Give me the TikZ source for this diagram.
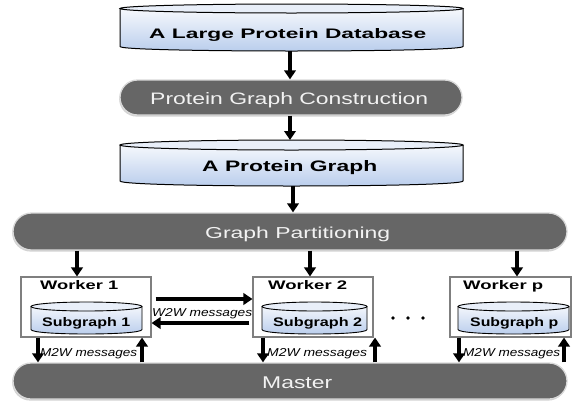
\documentclass[tikz,border=0pt]{standalone}
\usepackage{fontspec}
\setmainfont{Liberation Sans}
\usepackage{graphicx}
\usetikzlibrary{arrows.meta,shapes.misc,shadows}
\definecolor{pillgray}{HTML}{666666}
\definecolor{pilltext}{HTML}{F2F2F2}
\definecolor{pilledge}{HTML}{D9D9D9}
\definecolor{dbblue}{HTML}{B8CCEC}
\definecolor{dbtop}{HTML}{E9EFF9}
\definecolor{boxedge}{HTML}{7F7F7F}
\newcommand{\fittext}[3]{\resizebox{#1pt}{#2pt}{#3}}
% #1 x1, #2 x2, #3 ytop, #4 ybot, #5 ry, #6 name, #7 line width
\newcommand{\dbcyl}[7]{%
  \path[top color=white, bottom color=dbblue]
    (#1,#3+#5) -- (#1,#4-#5)
    .. controls (#1,#4-#5+1.3333*#5) and (#2,#4-#5+1.3333*#5) .. (#2,#4-#5)
    -- (#2,#3+#5)
    .. controls (#2,#3+#5-1.3333*#5) and (#1,#3+#5-1.3333*#5) .. (#1,#3+#5) -- cycle;
  \draw[line width=#7, fill=dbtop] ({(#1+#2)/2},#3+#5) ellipse [x radius={(#2-#1)/2}, y radius=#5];
  \draw[line width=#7, line join=round]
    (#1,#3+#5) -- (#1,#4-#5)
    .. controls (#1,#4-#5+1.3333*#5) and (#2,#4-#5+1.3333*#5) .. (#2,#4-#5)
    -- (#2,#3+#5);
  \node[inner sep=0pt, outer sep=0pt, minimum width={(#2-#1)*1pt}, minimum height={(#4-#3)*1pt}]
    (#6) at ({(#1+#2)/2},{(#3+#4)/2}) {};
}
\begin{document}
\begin{tikzpicture}[x=1pt,y=-1pt,
  pill/.style={rounded rectangle, fill=pillgray, draw=pilledge, line width=1.3pt, inner sep=0pt,
    drop shadow={shadow xshift=-0.8pt, shadow yshift=-1.6pt, opacity=0.35}},
  pilltxt/.style={anchor=base west, inner sep=0pt, text=pilltext},
  dbtxt/.style={anchor=base west, inner sep=0pt, text=black},
  msgtxt/.style={anchor=base west, inner sep=0pt, text=black},
  worker/.style={draw=boxedge, line width=1.1pt, fill=white, inner sep=0pt},
  flowarrow/.style={line width=3.2pt, -{Triangle[width=11.5pt,length=9pt]}},
  dotmark/.style={circle, fill=black, inner sep=0pt, minimum size=3.8pt}
]
\useasboundingbox (0,0) rectangle (572,402);

% top databases and construction step
\dbcyl{120}{463}{4}{51}{4.5}{db1}{1pt}
\node[pill, minimum width=342pt, minimum height=35pt] (pgc) at (291,97.5) {};
\dbcyl{120}{463}{140}{186}{5}{db2}{1pt}
\node[pill, minimum width=554pt, minimum height=37pt] (part) at (290,231.5) {};

% workers
\node[worker, minimum width=130pt, minimum height=60pt] (w1) at (86,307) {};
\node[worker, minimum width=120pt, minimum height=60pt] (w2) at (313,307) {};
\node[worker, minimum width=121pt, minimum height=60pt] (wp) at (510.5,307) {};
\dbcyl{31}{142}{302}{334}{4.5}{s1}{0.9pt}
\dbcyl{262}{367}{302}{334}{4.5}{s2}{0.9pt}
\dbcyl{458}{569}{302}{334}{4.5}{sp}{0.9pt}

% master
\node[pill, minimum width=554pt, minimum height=36pt] (master) at (290,381) {};

% texts
\node[dbtxt] (t1) at (149,38.3) {\fittext{277}{10}{\bfseries A Large Protein Database}};
\node[pilltxt] (t2) at (150,104.3) {\fittext{278}{12}{Protein Graph Construction}};
\node[dbtxt] (t3) at (202,171) {\fittext{175}{11}{\bfseries A Protein Graph}};
\node[pilltxt] (t4) at (205,238.3) {\fittext{185}{11.5}{Graph Partitioning}};
\node[pilltxt] (t5) at (262,388.3) {\fittext{70}{11.7}{Master}};

\node[dbtxt] (wt1) at (40,289) {\fittext{78}{9}{\bfseries Worker 1}};
\node[dbtxt] (wt2) at (268,289) {\fittext{79}{9}{\bfseries Worker 2}};
\node[dbtxt] (wtp) at (463,289) {\fittext{80}{9}{\bfseries Worker p}};

\node[dbtxt] (st1) at (42,326) {\fittext{88}{9}{\bfseries Subgraph 1}};
\node[dbtxt] (st2) at (273,326) {\fittext{89}{9}{\bfseries Subgraph 2}};
\node[dbtxt] (stp) at (470,326) {\fittext{88}{9}{\bfseries Subgraph p}};

\node[msgtxt] (w2w) at (152,316) {\fittext{100}{8}{\itshape W2W messages}};
\node[msgtxt] (m1) at (40,356) {\fittext{97}{8}{\itshape M2W messages}};
\node[msgtxt] (m2) at (267,356) {\fittext{100}{8}{\itshape M2W messages}};
\node[msgtxt] (mp) at (463,356) {\fittext{97}{8}{\itshape M2W messages}};

% dots
\node[dotmark] (d1) at (393,318) {};
\node[dotmark] (d2) at (408,318) {};
\node[dotmark] (d3) at (423,318) {};

% flow arrows
\draw[flowarrow] (290,0 |- db1.south) -- (290,0 |- pgc.north);
\draw[flowarrow] (290,0 |- pgc.south) -- (290,0 |- db2.north);
\draw[flowarrow] (293,0 |- db2.south) -- (293,0 |- part.north);
\draw[flowarrow] (77,0 |- part.south) -- (77,0 |- w1.north);
\draw[flowarrow] (310,0 |- part.south) -- (310,0 |- w2.north);
\draw[flowarrow] (517,0 |- part.south) -- (517,0 |- wp.north);

% W2W
\draw[flowarrow, shorten <=4pt] (w1.east |- 0,299) -- (w2.west |- 0,299);
\draw[flowarrow, shorten <=3pt] (w2.west |- 0,323) -- (w1.east |- 0,323);

% M2W
\draw[flowarrow] (38,0 |- w1.south) -- (38,0 |- master.north);
\draw[flowarrow] (142,0 |- master.north) -- (142,0 |- w1.south);
\draw[flowarrow] (263,0 |- w2.south) -- (263,0 |- master.north);
\draw[flowarrow] (375,0 |- master.north) -- (375,0 |- w2.south);
\draw[flowarrow] (459,0 |- wp.south) -- (459,0 |- master.north);
\draw[flowarrow] (564,0 |- master.north) -- (564,0 |- wp.south);
\end{tikzpicture}
\end{document}
